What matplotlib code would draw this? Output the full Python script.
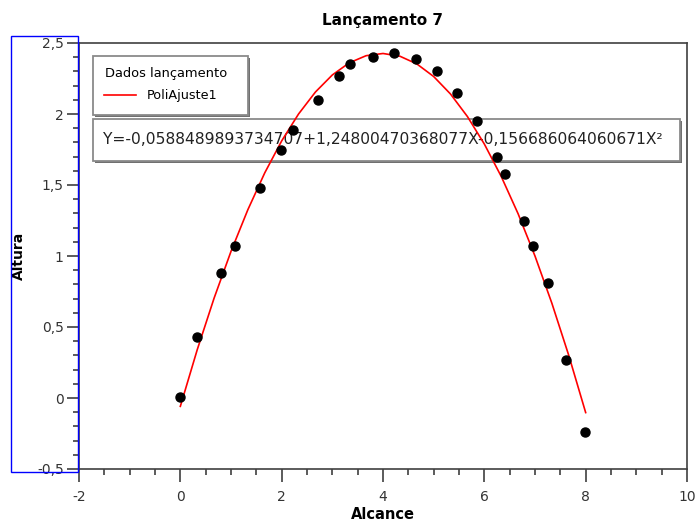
import matplotlib
matplotlib.use("Agg")
import matplotlib.pyplot as plt
import numpy as np
from matplotlib.ticker import MultipleLocator, FuncFormatter
from matplotlib.patches import Rectangle
from matplotlib.lines import Line2D

# data
alcance = [0.0, 0.32, 0.81, 1.07, 1.57, 1.99, 2.22, 2.71, 3.14, 3.35, 3.81, 4.22,
           4.65, 5.07, 5.47, 5.86, 6.25, 6.41, 6.78, 6.97, 7.26, 7.61, 7.98]
altura = [0.01, 0.43, 0.88, 1.07, 1.48, 1.75, 1.89, 2.10, 2.27, 2.35, 2.40, 2.43,
          2.39, 2.30, 2.15, 1.95, 1.70, 1.58, 1.25, 1.07, 0.81, 0.27, -0.24]
# fit coefficients as displayed
coef = [-0.0588489893734707, 1.24800470368077, -0.156686064060671]
fit_x_range = [0.0, 8.0]

title = "Lançamento 7"
xlabel = "Alcance"
ylabel = "Altura"
legend_labels = ["Dados lançamento", "PoliAjuste1"]
equation = "Y=-0,0588489893734707+1,24800470368077X-0,156686064060671X²"

W, H = 695, 524
fig = plt.figure(figsize=(W / 100, H / 100), dpi=100)
L, R, T, B = 79, 687, 43, 469
ax = fig.add_axes([L / W, 1 - B / H, (R - L) / W, (B - T) / H])

fx = np.linspace(fit_x_range[0], fit_x_range[1], 25)
fy = coef[0] + coef[1] * fx + coef[2] * fx ** 2
ax.plot(fx, fy, color="#ff0000", lw=1.2, zorder=5)
ax.plot(alcance, altura, "o", color="black", ms=6.5, zorder=6)

ax.set_xlim(-2, 10)
ax.set_ylim(-0.5, 2.5)
ax.xaxis.set_major_locator(MultipleLocator(2))
ax.xaxis.set_minor_locator(MultipleLocator(0.5))
ax.yaxis.set_major_locator(MultipleLocator(0.5))
ax.yaxis.set_minor_locator(MultipleLocator(0.1))
fmt = FuncFormatter(lambda v, p: ("%g" % v).replace(".", ","))
ax.xaxis.set_major_formatter(fmt)
ax.yaxis.set_major_formatter(fmt)
ax.tick_params(which="major", length=9, width=1.2, color="#404040", labelsize=10,
               labelcolor="#333333", direction="out")
ax.tick_params(which="minor", length=4.5, width=1.2, color="#404040", direction="out")
ax.tick_params(axis="x", pad=6)
ax.tick_params(axis="y", pad=2)
for s in ax.spines.values():
    s.set_color("#404040")
    s.set_linewidth(1.2)

ax.set_title(title, fontsize=11, fontweight="bold", pad=13)
ax.set_xlabel(xlabel, fontsize=10.5, fontweight="bold", labelpad=2)
ax.set_ylabel(ylabel, fontsize=10, fontweight="bold", labelpad=8)

def ax_frac(px, py):
    return (px - L) / (R - L), (B - py) / (B - T)

sx, sy = 1.5 / (R - L), 1.5 / (B - T)

def box(px0, py0, px1, py1):
    x0, y0 = ax_frac(px0, py1)
    x1, y1 = ax_frac(px1, py0)
    ax.add_patch(Rectangle((x0 + sx, y0 - sy), x1 - x0, y1 - y0, transform=ax.transAxes,
                           facecolor="#707070", edgecolor="none", zorder=2))
    ax.add_patch(Rectangle((x0, y0), x1 - x0, y1 - y0, transform=ax.transAxes,
                           facecolor="white", edgecolor="#8a8a8a", lw=1.3, zorder=3))

# legend box
box(93, 56, 248, 115)
tx, ty = ax_frac(105, 74)
ax.text(tx, ty, legend_labels[0], transform=ax.transAxes, fontsize=9.4,
        va="center", ha="left", zorder=4)
lx0, ly = ax_frac(104, 95)
lx1, _ = ax_frac(136, 95)
ax.add_line(Line2D([lx0, lx1], [ly, ly], transform=ax.transAxes, color="#ff0000",
                   lw=1.2, zorder=4))
tx, _ = ax_frac(147, 95)
ax.text(tx, ly, legend_labels[1], transform=ax.transAxes, fontsize=9.2,
        va="center", ha="left", zorder=4)

# equation box
box(93, 119, 680, 161)
tx, ty = ax_frac(103, 140)
ax.text(tx, ty, equation, transform=ax.transAxes, fontsize=11.2,
        va="center", ha="left", color="#222222", zorder=4)

# blue selection rectangle around y-axis
fig.add_artist(Rectangle((11 / W, 1 - 472 / H), 67 / W, 436 / H, transform=fig.transFigure,
                         facecolor="none", edgecolor="#0000ff", lw=1))

fig.savefig("out.png", dpi=100)
